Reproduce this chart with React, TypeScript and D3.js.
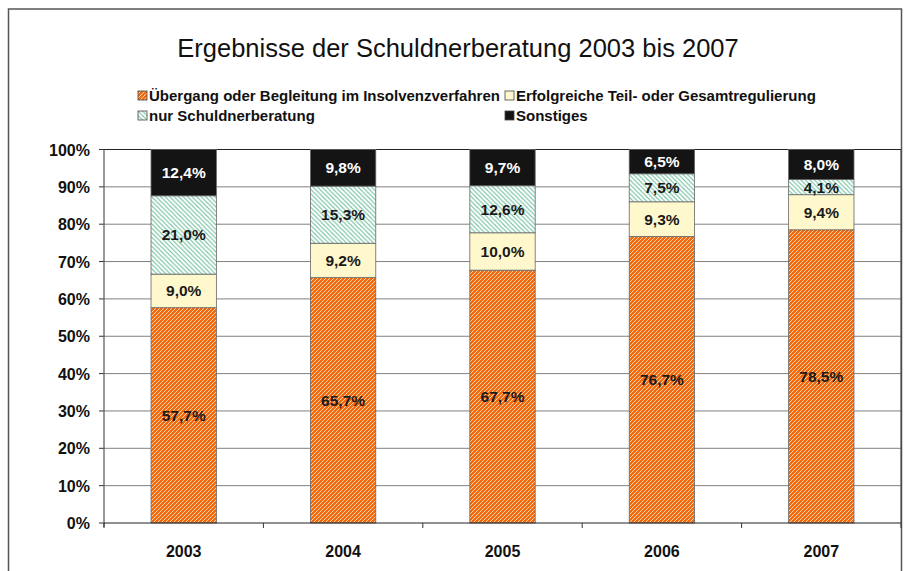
import React from "react";
import * as d3 from "d3";

const years = ["2003", "2004", "2005", "2006", "2007"];
const seriesNames = [
  "Übergang oder Begleitung im Insolvenzverfahren",
  "Erfolgreiche Teil- oder Gesamtregulierung",
  "nur Schuldnerberatung",
  "Sonstiges",
];
const uebergang = [57.7, 65.7, 67.7, 76.7, 78.5];
const erfolgreiche = [9.0, 9.2, 10.0, 9.3, 9.4];
const nurBeratung = [21.0, 15.3, 12.6, 7.5, 4.1];
const sonstiges = [12.4, 9.8, 9.7, 6.5, 8.0];
const yTicks = [0, 10, 20, 30, 40, 50, 60, 70, 80, 90, 100];

const W = 905;
const H = 571;
const plot = { left: 104, right: 901, top: 149.5, bottom: 523 };

const fills = ["url(#orangeHatch)", "#FFF8CC", "url(#greenHatch)", "#141414"];
const labelColors = ["#1a1a1a", "#1a1a1a", "#1a1a1a", "#ffffff"];
const font = "'Liberation Sans', Arial, sans-serif";

export default function App() {
  const x = d3.scaleBand<string>().domain(years).range([plot.left, plot.right]).paddingInner(0.59).paddingOuter(0.295);
  const y = d3.scaleLinear().domain([0, 100]).range([plot.bottom, plot.top]);
  const rows = years.map((yr, i) => ({
    year: yr,
    s0: uebergang[i],
    s1: erfolgreiche[i],
    s2: nurBeratung[i],
    s3: sonstiges[i],
  }));
  const stack = d3
    .stack<any>()
    .keys(["s0", "s1", "s2", "s3"])
    .offset(d3.stackOffsetExpand);
  const layers = stack(rows);
  const fmt = (v: number) => v.toFixed(1).replace(".", ",") + "%";
  const catWidth = (plot.right - plot.left) / years.length;

  const legendItems = [
    { x: 138, y: 101, i: 0 },
    { x: 505, y: 101, i: 1 },
    { x: 138, y: 121, i: 2 },
    { x: 505, y: 121, i: 3 },
  ];

  return (
    <div>
      <style>{`body{margin:0}`}</style>
      <svg width={W} height={H} style={{ display: "block", fontFamily: font }}>
        <defs>
          <pattern id="orangeHatch" patternUnits="userSpaceOnUse" width="4" height="4">
            <rect width="4" height="4" fill="#F26A10" />
            <path d="M-1,1 l2,-2 M0,4 l4,-4 M3,5 l2,-2" stroke="#FFD2AA" strokeWidth="1" />
          </pattern>
          <pattern id="greenHatch" patternUnits="userSpaceOnUse" width="4.5" height="4.5">
            <rect width="4.5" height="4.5" fill="#ffffff" />
            <path d="M-1,3.5 l2,2 M0,0 l4.5,4.5 M3.5,-1 l2,2" stroke="#6DBE9A" strokeWidth="1.1" />
          </pattern>
        </defs>
        <rect x={0} y={0} width={W} height={H} fill="#fff" />
        <rect x={8.5} y={9} width={893} height={H + 10} fill="none" stroke="#555" strokeWidth={1.5} />

        <text x={458} y={57} textAnchor="middle" fontSize={25.5} fill="#111">
          Ergebnisse der Schuldnerberatung 2003 bis 2007
        </text>

        {legendItems.map((l) => (
          <g key={l.i}>
            <rect x={l.x} y={l.y - 10} width={9} height={9} fill={fills[l.i]} stroke="#444" strokeWidth={0.8} />
            <text x={l.x + 11} y={l.y} fontSize={15} fontWeight="bold" fill="#111">
              {seriesNames[l.i]}
            </text>
          </g>
        ))}

        {yTicks.map((t) => (
          <g key={t}>
            {t > 0 && t < 100 && (
              <line x1={plot.left} x2={plot.right} y1={y(t)} y2={y(t)} stroke="#808080" strokeWidth={1} />
            )}
            <line x1={plot.left - 5} x2={plot.left} y1={y(t)} y2={y(t)} stroke="#333" strokeWidth={1} />
            <text x={90} y={y(t) + 6} textAnchor="end" fontSize={16} fontWeight="bold" fill="#111">
              {t}%
            </text>
          </g>
        ))}
        <line x1={plot.left} x2={plot.right} y1={plot.top} y2={plot.top} stroke="#222" strokeWidth={1} />
        <line x1={plot.right} x2={plot.right} y1={plot.top} y2={plot.bottom} stroke="#444" strokeWidth={1} />

        {layers.map((layer, li) =>
          layer.map((seg, si) => {
            const yr = years[si];
            const y0 = y(seg[0] * 100);
            const y1 = y(seg[1] * 100);
            const raw = [uebergang, erfolgreiche, nurBeratung, sonstiges][li][si];
            return (
              <g key={li + "-" + si}>
                <rect
                  x={x(yr)}
                  y={y1}
                  width={x.bandwidth()}
                  height={y0 - y1}
                  fill={fills[li]}
                  stroke="#666"
                  strokeWidth={0.8}
                />
                <text
                  x={(x(yr) as number) + x.bandwidth() / 2}
                  y={(y0 + y1) / 2 + 5.5}
                  textAnchor="middle"
                  fontSize={15.5}
                  fontWeight="bold"
                  fill={labelColors[li]}
                >
                  {fmt(raw)}
                </text>
              </g>
            );
          })
        )}

        <line x1={plot.left} x2={plot.left} y1={plot.top} y2={plot.bottom + 4} stroke="#555" strokeWidth={1.2} />
        <line x1={plot.left} x2={plot.right} y1={plot.bottom} y2={plot.bottom} stroke="#222" strokeWidth={1} />
        {d3.range(years.length + 1).map((k) => (
          <line
            key={k}
            x1={plot.left + k * catWidth}
            x2={plot.left + k * catWidth}
            y1={plot.bottom}
            y2={plot.bottom + 5}
            stroke="#333"
          />
        ))}
        {years.map((yr) => (
          <text
            key={yr}
            x={(x(yr) as number) + x.bandwidth() / 2}
            y={557}
            textAnchor="middle"
            fontSize={16}
            fontWeight="bold"
            fill="#111"
          >
            {yr}
          </text>
        ))}
      </svg>
    </div>
  );
}
